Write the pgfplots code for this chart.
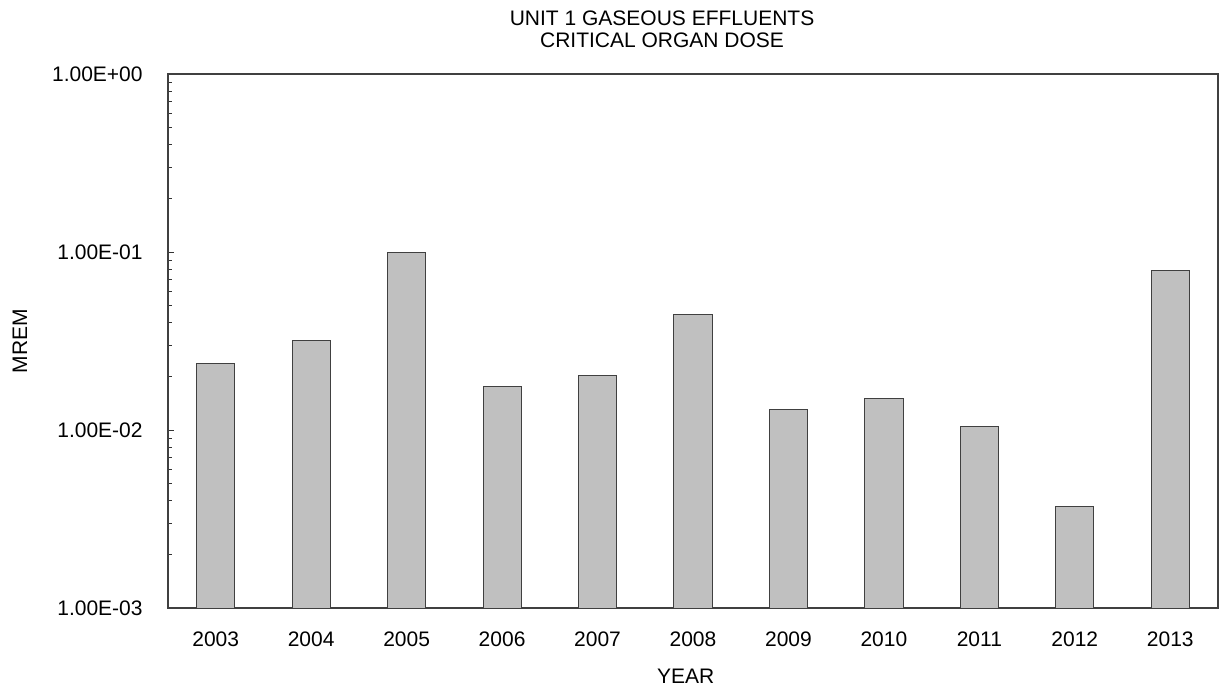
\documentclass[border=0pt]{standalone}
\usepackage{fontspec}
\setmainfont{Liberation Sans}
\usepackage{pgfplots}
\pgfplotsset{compat=1.18}

\definecolor{barfill}{RGB}{192,192,192}
\definecolor{baredge}{RGB}{64,64,64}

\begin{document}
\fontsize{10.5}{11}\selectfont
\begin{tikzpicture}
\useasboundingbox (-84pt,-39.5pt) rectangle (526.5pt,304pt);
\begin{axis}[
    scale only axis,
    width=525pt, height=267pt,
    ymode=log,
    log origin=infty,
    ymin=1e-3, ymax=1,
    xmin=-0.5, xmax=10.5,
    ybar,
    bar width=0.4,
    xtick=data,
    xticklabels={2003,2004,2005,2006,2007,2008,2009,2010,2011,2012,2013},
    xtick style={draw=none},
    ytick={1e-3,1e-2,1e-1,1},
    yticklabels={1.00E-03,1.00E-02,1.00E-01,1.00E+00},
    ytick pos=left,
    tick align=inside,
    major tick length=3pt,
    minor tick length=2pt,
    every tick/.style={black!80, line width=0.5pt},
    axis line style={black!75, line width=0.6pt},
    tick label style={font=\fontsize{10.5}{11}\selectfont},
    yticklabel style={inner sep=0pt, xshift=-12.5pt, anchor=east},
    xticklabel style={inner sep=0pt, yshift=-11.5pt, anchor=north},
    /pgf/number format/assume math mode=true,
    title={UNIT 1 GASEOUS EFFLUENTS\\CRITICAL ORGAN DOSE},
    title style={align=center, font=\fontsize{10.5}{11}\selectfont, inner sep=0pt,
        at={(axis description cs:0.4705,1)}, anchor=south, yshift=7pt},
    xlabel={YEAR},
    xlabel style={at={(axis description cs:0.493,-0.127)}, anchor=center, inner sep=0pt},
    ylabel={MREM},
    ylabel style={at={(axis description cs:-0.141,0.5)}, anchor=center, inner sep=0pt},
]
\addplot[fill=barfill, draw=baredge, line width=0.5pt] coordinates {
    (0,0.0236) (1,0.0318) (2,0.100) (3,0.0176) (4,0.0203) (5,0.0448)
    (6,0.0131) (7,0.0151) (8,0.01045) (9,0.00372) (10,0.0785)
};
\end{axis}
\end{tikzpicture}
\end{document}
